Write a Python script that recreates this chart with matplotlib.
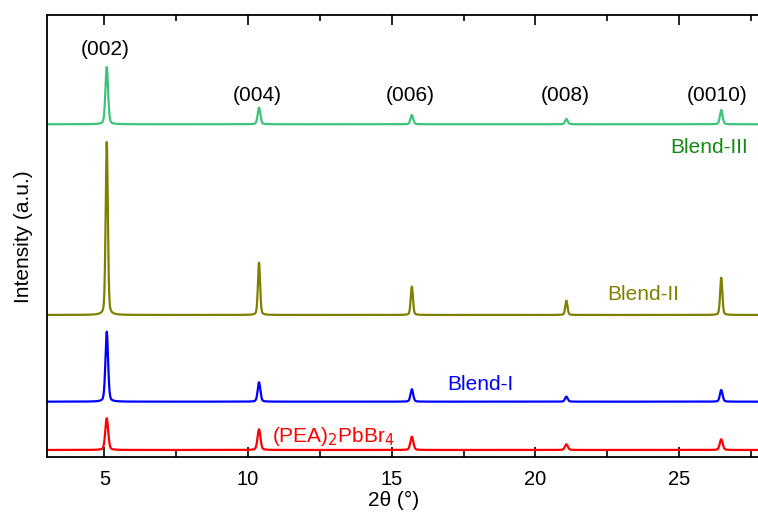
import numpy as np
import matplotlib
matplotlib.use("Agg")
import matplotlib.pyplot as plt
from matplotlib.ticker import MultipleLocator

plt.rcParams['font.family'] = ['Liberation Sans', 'DejaVu Sans']

# Peak positions (2theta, degrees) and labels
peak_pos = [5.08, 10.38, 15.70, 21.08, 26.47]
peak_labels = ["(002)", "(004)", "(006)", "(008)", "(0010)"]

# Offsets (a.u.) and peak heights above baseline (a.u.) for each sample
names = ["(PEA)$_2$PbBr$_4$", "Blend-I", "Blend-II", "Blend-III"]
offsets = [6.7, 55.0, 141.7, 332.4]
heights_pea = [31.7, 20.7, 13.3, 5.7, 10.7]
heights_b1 = [70.0, 19.4, 12.4, 5.0, 11.7]
heights_b2 = [173.0, 52.3, 28.3, 14.3, 37.3]
heights_b3 = [57.3, 16.6, 9.3, 5.3, 14.3]
widths = [0.12, 0.11, 0.09, 0.11]
line_colors = ["#ff0000", "#0000ff", "#808000", "#3cc57a"]
text_colors = ["#ff0000", "#0000ff", "#808000", "#138a13"]
label_xy = [(10.82, 15.0), (18.07, 66.7), (23.75, 156.7), (27.4, 304.0)]
label_ha = ["left", "center", "center", "right"]

all_heights = [heights_pea, heights_b1, heights_b2, heights_b3]

x = np.arange(3.0, 27.8, 0.004)

def pattern(pos, hts, fwhm):
    y = np.zeros_like(x)
    for p, h in zip(pos, hts):
        g = np.exp(-4 * np.log(2) * (x - p) ** 2 / fwhm ** 2)
        l = 1.0 / (1.0 + 4 * (x - p) ** 2 / fwhm ** 2)
        y += h * (0.7 * g + 0.3 * l)
    return y

fig = plt.figure(figsize=(7.58, 5.16), dpi=100)
ax = fig.add_axes([0.062, 0.115, 0.938, 0.856])

for off, hts, w, c in zip(offsets, all_heights, widths, line_colors):
    ax.plot(x, off + pattern(peak_pos, hts, w), color=c, lw=1.6)

for (lx, ly), name, tc, ha in zip(label_xy, names, text_colors, label_ha):
    ax.text(lx, ly, name, color=tc, fontsize=15, ha=ha, va="baseline")

# peak index labels
idx_y = [406.7, 360.7, 360.7, 360.7, 360.7]
idx_dx = [-0.05, -0.05, -0.05, -0.05, -0.15]
for p, lab, yy, dx in zip(peak_pos, peak_labels, idx_y, idx_dx):
    ax.text(p + dx, yy, lab, fontsize=15, ha="center", va="center")

ax.set_xlim(3, 27.75)
ax.set_ylim(0, 441.7)
ax.xaxis.set_major_locator(MultipleLocator(5))
ax.xaxis.set_minor_locator(MultipleLocator(2.5))
ax.tick_params(axis='x', which='both', direction='in', top=True, bottom=True, labelsize=14.5, pad=9.5)
ax.tick_params(axis='x', which='major', length=7, width=1.2)
ax.tick_params(axis='x', which='minor', length=4.5, width=1.2)
ax.set_yticks([])
ax.spines['right'].set_visible(False)
for s in ['left', 'top', 'bottom']:
    ax.spines[s].set_linewidth(1.3)

ax.set_xlabel("2θ (°)", fontsize=15)
ax.set_ylabel("Intensity (a.u.)", fontsize=15)
ax.xaxis.set_label_coords(0.488, -0.077)
ax.yaxis.set_label_coords(-0.02, 0.497)

fig.savefig("out.png", dpi=100)
